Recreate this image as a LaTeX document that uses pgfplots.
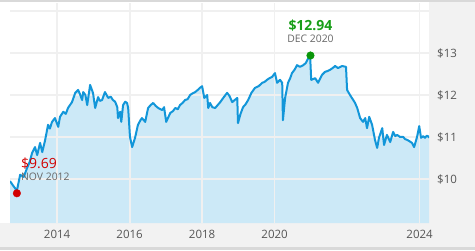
\documentclass[border=0pt]{standalone}
\usepackage{pgfplots}
\usepackage{pgfplotstable}
\pgfplotsset{compat=1.18}
\usepackage{fontspec}
\setmainfont{Open Sans}
\definecolor{navline}{RGB}{18,150,217}
\definecolor{navfill}{RGB}{204,233,247}
\definecolor{gridc}{RGB}{240,240,240}
\definecolor{panel}{RGB}{242,242,242}
\definecolor{barc}{RGB}{217,217,217}
\definecolor{ticktext}{RGB}{85,85,85}
\definecolor{datetext}{RGB}{102,102,102}
\definecolor{hightext}{RGB}{24,158,24}
\definecolor{highdot}{RGB}{10,150,10}
\definecolor{lowtext}{RGB}{210,0,0}

\pgfplotstableread{
x y
2012.70 9.95
2012.78 9.85
2012.89 9.72
2012.98 10.10
2013.08 10.05
2013.17 10.26
2013.24 10.40
2013.31 10.62
2013.39 10.76
2013.45 10.57
2013.53 10.86
2013.59 10.64
2013.67 10.93
2013.75 11.29
2013.80 11.20
2013.86 11.36
2013.94 11.45
2014.03 11.24
2014.08 11.48
2014.17 11.60
2014.24 11.55
2014.30 11.69
2014.41 11.83
2014.50 12.05
2014.58 12.12
2014.63 12.02
2014.69 11.88
2014.72 12.07
2014.78 12.00
2014.83 11.76
2014.91 12.24
2014.99 12.05
2015.05 11.69
2015.13 11.95
2015.18 11.86
2015.24 11.88
2015.32 12.07
2015.41 11.93
2015.48 11.96
2015.54 11.88
2015.60 11.84
2015.66 11.71
2015.68 11.45
2015.74 11.60
2015.77 11.36
2015.82 11.76
2015.88 11.84
2015.93 11.81
2015.96 11.69
2016.01 11.00
2016.07 10.76
2016.15 10.98
2016.23 11.29
2016.30 11.40
2016.34 11.45
2016.43 11.36
2016.51 11.69
2016.58 11.76
2016.65 11.81
2016.72 11.74
2016.79 11.69
2016.90 11.64
2016.95 11.71
2017.01 11.36
2017.12 11.57
2017.20 11.62
2017.26 11.69
2017.33 11.66
2017.39 11.76
2017.46 11.81
2017.53 11.88
2017.60 11.90
2017.67 12.00
2017.74 12.04
2017.81 12.07
2017.88 12.12
2017.94 12.17
2018.00 12.21
2018.06 11.93
2018.14 12.00
2018.17 11.69
2018.22 11.81
2018.28 11.71
2018.36 11.69
2018.43 11.76
2018.50 11.83
2018.60 11.95
2018.69 12.05
2018.76 11.97
2018.83 11.83
2018.97 11.93
2018.99 11.33
2019.06 11.55
2019.13 11.71
2019.20 11.78
2019.27 11.88
2019.36 12.05
2019.46 12.17
2019.56 12.21
2019.66 12.29
2019.72 12.31
2019.79 12.36
2019.86 12.40
2019.93 12.43
2020.01 12.52
2020.07 12.29
2020.15 12.36
2020.21 12.29
2020.23 11.40
2020.29 11.93
2020.37 12.29
2020.43 12.40
2020.48 12.52
2020.55 12.60
2020.62 12.71
2020.70 12.67
2020.79 12.71
2020.86 12.76
2020.90 12.83
2020.98 12.94
2021.01 12.36
2021.12 12.40
2021.20 12.29
2021.31 12.48
2021.39 12.55
2021.46 12.57
2021.53 12.60
2021.60 12.64
2021.67 12.69
2021.75 12.64
2021.86 12.69
2021.97 12.67
2022.00 12.12
2022.08 12.00
2022.17 11.88
2022.22 11.81
2022.28 11.69
2022.36 11.45
2022.44 11.36
2022.50 11.45
2022.55 11.21
2022.61 11.48
2022.69 11.29
2022.77 10.93
2022.83 10.74
2022.88 10.98
2022.97 11.21
2023.02 10.81
2023.10 11.05
2023.19 10.88
2023.27 11.12
2023.33 11.02
2023.38 11.05
2023.46 11.00
2023.55 11.00
2023.60 10.95
2023.66 10.93
2023.72 10.90
2023.79 10.86
2023.85 10.76
2023.93 11.00
2023.99 11.26
2024.04 10.98
2024.10 11.02
2024.15 10.98
2024.20 11.03
2024.23 11.02
2024.26 10.98
}\navdata

\pgfplotsset{
  navbase/.style={
    at={(10pt,-3pt)}, anchor=north west,
    scale only axis, width=419pt, height=220pt,
    xmin=2012.70, xmax=2024.26,
    ymin=8.952, ymax=14.19,
    axis line style={draw=none},
    major tick length=0pt,
  }
}

\begin{document}
\begin{tikzpicture}
\fill[panel] (0,-223pt) rectangle (475pt,-247pt);
\fill[panel] (429pt,-2pt) rectangle (475pt,-247pt);
\fill[barc] (0,0) rectangle (475pt,-2pt);
\fill[barc] (0,-247pt) rectangle (475pt,-250pt);
\begin{axis}[navbase, xtick=\empty, ytick=\empty]
\addplot[fill=navfill, draw=none] table {\navdata} \closedcycle;
\end{axis}
\begin{axis}[
  navbase,
  xtick={2014,2016,2018,2020,2024},
  xticklabels={2014,2016,2018,2020,2024},
  ytick={10,11,12,13,14},
  yticklabels={\$10,\$11,\$12,\$13,},
  grid=major,
  major grid style={draw=gridc, line width=1.8pt},
  yticklabel pos=right,
  x tick label style={font=\fontsize{11.5}{13}\selectfont, text=ticktext, anchor=center, yshift=-11pt, inner sep=0pt},
  y tick label style={font=\fontsize{11.5}{13}\selectfont, text=ticktext, anchor=west, xshift=8pt, inner sep=0pt},
]
\addplot[navline, line width=2pt, line join=round] table {\navdata};
\addplot[only marks, mark=*, mark size=3.8pt, color=highdot] coordinates {(2020.99,12.94)};
\addplot[only marks, mark=*, mark size=3.8pt, color=lowtext] coordinates {(2012.89,9.66)};
\node[text=hightext, font=\fontsize{14}{16}\selectfont\bfseries, anchor=center, inner sep=0pt, yshift=30pt] at (axis cs:2020.99,12.94) {\$12.94};
\node[text=datetext, font=\fontsize{10.4}{12}\selectfont, anchor=center, inner sep=0pt, yshift=17pt] at (axis cs:2020.99,12.94) {DEC 2020};
\node[text=lowtext, font=\fontsize{14}{16}\selectfont, anchor=west, inner sep=0pt, xshift=4pt, yshift=30pt] at (axis cs:2012.89,9.66) {\$9.69};
\node[text=datetext, font=\fontsize{10.4}{12}\selectfont, anchor=west, inner sep=0pt, xshift=4pt, yshift=16pt] at (axis cs:2012.89,9.66) {NOV 2012};
\end{axis}
\path[use as bounding box] (0,0) rectangle (475pt,-250pt);
\end{tikzpicture}
\end{document}
